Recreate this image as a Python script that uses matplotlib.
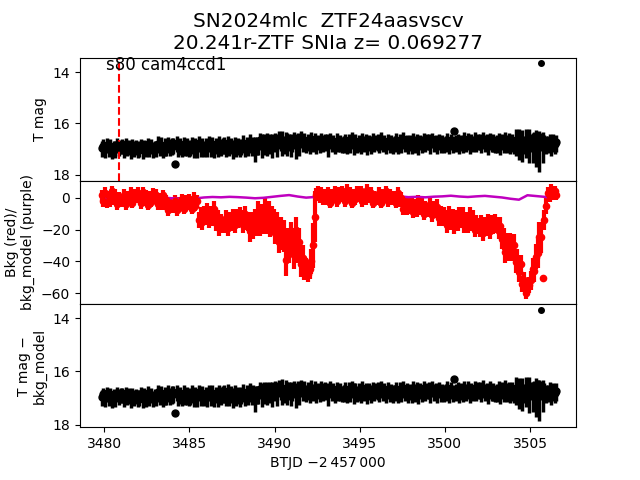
import numpy as np
import matplotlib
matplotlib.use("Agg")
import matplotlib.pyplot as plt

# TESS cadence (binned to 0.1 d), BTJD
btjd = [3479.85, 3479.95,
        3480.05, 3480.15, 3480.25, 3480.35, 3480.45, 3480.55, 3480.65, 3480.75, 3480.85, 3480.95,
        3481.05, 3481.15, 3481.25, 3481.35, 3481.45, 3481.55, 3481.65, 3481.75, 3481.85, 3481.95,
        3482.05, 3482.15, 3482.25, 3482.35, 3482.45, 3482.55, 3482.65, 3482.75, 3482.85, 3482.95,
        3483.05, 3483.15, 3483.25, 3483.35, 3483.45, 3483.55, 3483.65, 3483.75, 3483.85, 3483.95,
        3484.05, 3484.15, 3484.25, 3484.35, 3484.45, 3484.55, 3484.65, 3484.75, 3484.85, 3484.95,
        3485.05, 3485.15, 3485.25, 3485.35, 3485.45, 3485.55, 3485.65, 3485.75, 3485.85, 3485.95,
        3486.05, 3486.15, 3486.25, 3486.35, 3486.45, 3486.55, 3486.65, 3486.75, 3486.85, 3486.95,
        3487.05, 3487.15, 3487.25, 3487.35, 3487.45, 3487.55, 3487.65, 3487.75, 3487.85, 3487.95,
        3488.05, 3488.15, 3488.25, 3488.35, 3488.45, 3488.55, 3488.65, 3488.75, 3488.85, 3488.95,
        3489.05, 3489.15, 3489.25, 3489.35, 3489.45, 3489.55, 3489.65, 3489.75, 3489.85, 3489.95,
        3490.05, 3490.15, 3490.25, 3490.35, 3490.45, 3490.55, 3490.65, 3490.75, 3490.85, 3490.95,
        3491.05, 3491.15, 3491.25, 3491.35, 3491.45, 3491.55, 3491.65, 3491.75, 3491.85, 3491.95,
        3492.05, 3492.15, 3492.25, 3492.35, 3492.45, 3492.55, 3492.65, 3492.75, 3492.85, 3492.95,
        3493.05, 3493.15, 3493.25, 3493.35, 3493.45, 3493.55, 3493.65, 3493.75, 3493.85, 3493.95,
        3494.05, 3494.15, 3494.25, 3494.35, 3494.45, 3494.55, 3494.65, 3494.75, 3494.85, 3494.95,
        3495.05, 3495.15, 3495.25, 3495.35, 3495.45, 3495.55, 3495.65, 3495.75, 3495.85, 3495.95,
        3496.05, 3496.15, 3496.25, 3496.35, 3496.45, 3496.55, 3496.65, 3496.75, 3496.85, 3496.95,
        3497.05, 3497.15, 3497.25, 3497.35, 3497.45, 3497.55, 3497.65, 3497.75, 3497.85, 3497.95,
        3498.05, 3498.15, 3498.25, 3498.35, 3498.45, 3498.55, 3498.65, 3498.75, 3498.85, 3498.95,
        3499.05, 3499.15, 3499.25, 3499.35, 3499.45, 3499.55, 3499.65, 3499.75, 3499.85, 3499.95,
        3500.05, 3500.15, 3500.25, 3500.35, 3500.45, 3500.55, 3500.65, 3500.75, 3500.85, 3500.95,
        3501.05, 3501.15, 3501.25, 3501.35, 3501.45, 3501.55, 3501.65, 3501.75, 3501.85, 3501.95,
        3502.05, 3502.15, 3502.25, 3502.35, 3502.45, 3502.55, 3502.65, 3502.75, 3502.85, 3502.95,
        3503.05, 3503.15, 3503.25, 3503.35, 3503.45, 3503.55, 3503.65, 3503.75, 3503.85, 3503.95,
        3504.05, 3504.15, 3504.25, 3504.35, 3504.45, 3504.55, 3504.65, 3504.75, 3504.85, 3504.95,
        3505.05, 3505.15, 3505.25, 3505.35, 3505.45, 3505.55, 3505.65, 3505.75, 3505.85, 3505.95,
        3506.05, 3506.15, 3506.25, 3506.35, 3506.45, 3506.55]

tmag = [16.95, 16.86,
        17.00, 16.82, 16.95, 16.86, 17.03, 16.90, 16.97, 16.83, 16.93, 16.88,
        16.87, 16.99, 16.81, 16.94, 16.89, 17.01, 16.85, 16.96, 16.91, 16.98,
        16.95, 16.84, 17.02, 16.88, 16.98, 16.80, 16.94, 16.87, 17.00, 16.91,
        16.96, 16.78, 16.91, 16.82, 16.99, 16.86, 16.93, 16.79, 16.89, 16.84,
        16.83, 17.58, 16.77, 16.90, 16.85, 16.97, 16.81, 16.92, 16.87, 16.94,
        16.91, 16.80, 16.98, 16.84, 16.94, 16.76, 16.90, 16.83, 16.96, 16.87,
        16.95, 16.77, 16.90, 16.81, 16.98, 16.85, 16.92, 16.78, 16.88, 16.83,
        16.81, 16.93, 16.75, 16.88, 16.83, 16.95, 16.79, 16.90, 16.85, 16.92,
        16.87, 16.76, 16.94, 16.80, 16.90, 16.72, 16.86, 16.79, 16.92, 16.83,
        16.84, 16.66, 16.79, 16.70, 16.87, 16.74, 16.81, 16.67, 16.77, 16.72,
        16.65, 16.77, 16.59, 16.72, 16.67, 16.79, 16.63, 16.74, 16.69, 16.76,
        16.73, 16.62, 16.80, 16.66, 16.76, 16.58, 16.72, 16.65, 16.78, 16.69,
        16.80, 16.62, 16.75, 16.66, 16.83, 16.70, 16.77, 16.63, 16.73, 16.68,
        16.69, 16.81, 16.63, 16.76, 16.71, 16.83, 16.67, 16.78, 16.73, 16.80,
        16.77, 16.66, 16.84, 16.70, 16.80, 16.62, 16.76, 16.69, 16.82, 16.73,
        16.82, 16.64, 16.77, 16.68, 16.85, 16.72, 16.79, 16.65, 16.75, 16.70,
        16.69, 16.81, 16.63, 16.76, 16.71, 16.83, 16.67, 16.78, 16.73, 16.80,
        16.77, 16.66, 16.84, 16.70, 16.80, 16.62, 16.76, 16.69, 16.82, 16.73,
        16.81, 16.63, 16.76, 16.67, 16.84, 16.71, 16.78, 16.64, 16.74, 16.69,
        16.68, 16.80, 16.62, 16.75, 16.70, 16.82, 16.66, 16.77, 16.72, 16.79,
        16.75, 16.64, 16.82, 16.68, 16.78, 16.30, 16.74, 16.67, 16.80, 16.71,
        16.80, 16.62, 16.75, 16.66, 16.83, 16.70, 16.77, 16.63, 16.73, 16.68,
        16.67, 16.79, 16.61, 16.74, 16.69, 16.81, 16.65, 16.76, 16.71, 16.78,
        16.75, 16.64, 16.82, 16.68, 16.78, 16.60, 16.74, 16.67, 16.80, 16.71,
        16.81, 16.63, 16.76, 16.67, 16.84, 16.71, 16.78, 16.64, 16.74, 16.69,
        16.69, 16.81, 16.63, 16.76, 16.71, 16.83, 16.67, 16.78, 16.73, 16.80,
        16.78, 16.67, 16.85, 16.71, 16.81, 16.73]

# flux error as a fraction of flux
flux_err = [0.27, 0.26,
            0.27, 0.25, 0.28, 0.26, 0.27, 0.24, 0.28, 0.26, 0.27, 0.25,
            0.26, 0.28, 0.25, 0.27, 0.26, 0.28, 0.25, 0.27, 0.26, 0.28,
            0.27, 0.25, 0.28, 0.26, 0.27, 0.25, 0.28, 0.26, 0.27, 0.25,
            0.28, 0.30, 0.27, 0.29, 0.28, 0.30, 0.27, 0.29, 0.28, 0.30,
            0.29, 0.03, 0.28, 0.30, 0.29, 0.27, 0.30, 0.28, 0.31, 0.29,
            0.28, 0.30, 0.29, 0.27, 0.30, 0.28, 0.31, 0.29, 0.28, 0.30,
            0.29, 0.28, 0.30, 0.32, 0.29, 0.28, 0.31, 0.29, 0.30, 0.28,
            0.30, 0.29, 0.28, 0.31, 0.29, 0.33, 0.28, 0.30, 0.29, 0.31,
            0.29, 0.31, 0.28, 0.30, 0.29, 0.32, 0.30, 0.29, 0.42, 0.30,
            0.31, 0.29, 0.40, 0.30, 0.28, 0.38, 0.30, 0.29, 0.41, 0.30,
            0.29, 0.39, 0.30, 0.28, 0.43, 0.30, 0.31, 0.38, 0.29, 0.40,
            0.30, 0.29, 0.41, 0.30, 0.38, 0.29, 0.31, 0.30, 0.28, 0.30,
            0.29, 0.30, 0.28, 0.30, 0.29, 0.27, 0.30, 0.28, 0.29, 0.30,
            0.28, 0.36, 0.29, 0.27, 0.29, 0.28, 0.30, 0.27, 0.29, 0.28,
            0.29, 0.28, 0.27, 0.30, 0.28, 0.29, 0.35, 0.28, 0.27, 0.29,
            0.28, 0.29, 0.28, 0.27, 0.29, 0.28, 0.30, 0.28, 0.29, 0.27,
            0.29, 0.28, 0.30, 0.28, 0.27, 0.29, 0.28, 0.30, 0.28, 0.29,
            0.28, 0.29, 0.27, 0.30, 0.28, 0.29, 0.28, 0.27, 0.29, 0.28,
            0.29, 0.28, 0.30, 0.28, 0.29, 0.27, 0.30, 0.28, 0.29, 0.28,
            0.28, 0.30, 0.27, 0.29, 0.28, 0.30, 0.28, 0.29, 0.27, 0.29,
            0.29, 0.28, 0.30, 0.28, 0.29, 0.03, 0.29, 0.28, 0.30, 0.28,
            0.28, 0.29, 0.28, 0.30, 0.27, 0.29, 0.28, 0.30, 0.29, 0.28,
            0.29, 0.28, 0.30, 0.29, 0.28, 0.31, 0.29, 0.28, 0.30, 0.29,
            0.30, 0.29, 0.31, 0.29, 0.30, 0.28, 0.31, 0.30, 0.29, 0.32,
            0.30, 0.45, 0.31, 0.50, 0.30, 0.52, 0.31, 0.47, 0.30, 0.55,
            0.31, 0.48, 0.30, 0.58, 0.44, 0.62, 0.31, 0.50, 0.30, 0.31,
            0.30, 0.29, 0.31, 0.30, 0.29, 0.30]

bkg = [1.5, -2.0,
       3, -3, 1, -2, 4, -1, 2, -4, 0, -2,
       -2, 2, -4, 1, -1, 3, -3, 2, 0, 3,
       0.5, -3.5, 3.5, -1.5, 1.5, -4.5, 0.5, -2.5, 2.5, -0.5,
       2, -4, -0.5, -4, 1.5, -4, -1.5, -8, -4, -6,
       -6, -2, -8, -3, -5, -1, -7, -2, -4, -1,
       -3, -7, 0, -5, -2, -14, -11, -15, -10, -12,
       -8, -14, -10, -13, -7, -16, -13, -19, -15, -17,
       -17, -13, -19, -14, -16, -12, -17, -12, -14, -11,
       -13, -17, -10, -15, -15, -21, -16, -19, -14, -17,
       -10, -16, -12, -15, -9, -14, -11, -17, -13, -15,
       -22, -16, -28, -20, -24, -24, -39, -29, -32, -24,
       -28, -36, -20, -32, -28, -42, -38, -46, -44, -48,
       -45, -40, -30, -12, 2, 4, 0, 3, -1, 2,
       -1, 3, -3, 2, 0, 4, -2, 3, 1, 4,
       2, -2, 5, 0, 3, -3, 2, -1, 4, 1,
       4, -2, 2, -1, 5, 0, 3, -3, 1, -1,
       -1, 3, -3, 2, 0, 4, -2, 2, -1, 1,
       1, -3, 3, -2, 0, -7, -3, -7, -3, -6,
       -3, -9, -5, -8, -2, -7, -4, -10, -6, -8,
       -8, -4, -11, -6, -9, -6, -13, -10, -13, -11,
       -13, -17, -10, -15, -12, -18, -13, -16, -11, -14,
       -11, -17, -14, -17, -11, -16, -13, -20, -16, -18,
       -20, -16, -22, -17, -19, -15, -21, -16, -18, -15,
       -17, -21, -18, -26, -26, -34, -29, -33, -29, -33,
       -29.5, -40.5, -38.5, -47, -42, -54.5, -52, -60, -55, -55,
       -52, -45, -46, -37, -35, -25, -25, -50.5, -14, -5,
       3, 1, 5, 2, 4, 2]

bkg_err = [3.5, 3.5,
           3.5, 3.5, 3.5, 3.5, 3.5, 3.5, 3.5, 3.5, 3.5, 3.5,
           3.5, 3.5, 3.5, 3.5, 3.5, 3.5, 3.5, 3.5, 3.5, 3.5,
           3.5, 3.5, 3.5, 3.5, 3.5, 3.5, 3.5, 3.5, 3.5, 3.5,
           3.5, 3.5, 3.5, 3.5, 3.5, 3.5, 3.5, 3.5, 3.5, 3.5,
           3.5, 3.5, 3.5, 3.5, 3.5, 3.5, 3.5, 3.5, 3.5, 3.5,
           3.5, 3.5, 3.5, 3.5, 3.5, 5, 5, 5, 5, 5,
           5, 5, 5, 5, 5, 5, 5, 5, 5, 5,
           5, 5, 5, 5, 5, 5, 5, 5, 5, 5,
           5, 5, 5, 5, 6, 7, 7, 7, 7, 7,
           8, 8, 8, 8, 9, 9, 9, 8, 8, 8,
           7, 7, 7, 8, 9, 10, 10, 10, 9, 9,
           9, 9, 8, 9, 9, 8, 8, 6, 6, 5,
           6, 8, 14, 16, 4, 3.5, 3.5, 3.5, 3.5, 3.5,
           3.5, 3.5, 3.5, 3.5, 3.5, 3.5, 3.5, 3.5, 3.5, 3.5,
           3.5, 3.5, 3.5, 3.5, 3.5, 3.5, 3.5, 3.5, 3.5, 3.5,
           3.5, 3.5, 3.5, 3.5, 3.5, 3.5, 3.5, 3.5, 3.5, 3.5,
           3.5, 3.5, 3.5, 3.5, 3.5, 3.5, 3.5, 3.5, 3.5, 3.5,
           3.5, 3.5, 3.5, 3.5, 3.5, 4, 4, 4, 4, 4,
           4, 4, 4, 4, 4, 4, 4, 4, 4, 4,
           4, 4, 4, 4, 4, 5, 5, 5, 5, 5,
           5, 5, 5, 5, 5, 5, 5, 5, 5, 5,
           5, 5, 5, 5, 5, 5, 5, 5, 5, 5,
           5, 5, 5, 5, 5, 5, 5, 5, 5, 5,
           5, 5, 6, 6, 7, 7, 7, 7, 7, 7,
           7, 7, 6, 6, 6, 5, 5, 4, 4, 5,
           6, 7, 7, 8, 9, 10, 10, 0.3, 6, 5,
           3.5, 3.5, 3.5, 3.5, 3.5, 3.5]

# background model, sampled every 0.5 d
model_btjd = [3479.85, 3480.35, 3480.85, 3481.35, 3481.85, 3482.35, 3482.85, 3483.35, 3483.85,
              3484.35, 3484.85, 3485.35, 3485.85, 3486.35, 3486.85, 3487.35, 3487.85, 3488.35,
              3488.85, 3489.35, 3489.85, 3490.35, 3490.85, 3491.35, 3491.85, 3492.35, 3492.85,
              3493.35, 3493.85, 3494.35, 3494.85, 3495.35, 3495.85, 3496.35, 3496.85, 3497.35,
              3497.85, 3498.35, 3498.85, 3499.35, 3499.85, 3500.35, 3500.85, 3501.35, 3501.85,
              3502.35, 3502.85, 3503.35, 3503.85, 3504.35, 3504.85, 3505.35, 3505.85, 3506.35,
              3506.55]
bkg_model = [-0.3, -0.2, -0.4, -0.1, -0.3, 0.0, -0.2, 0.1, -0.2,
             -0.6, -0.9, -0.4, 0.2, 0.5, 0.3, 0.6, 0.4, 0.1,
             -0.3, 0.0, 0.6, 1.2, 1.7, 0.8, 0.1, 0.5, 0.7,
             0.4, 0.8, 0.5, 0.7, 0.9, 0.6, 0.8, 0.5, 0.9,
             0.4, 0.6, 0.3, 0.7, 0.9, 1.3, 0.8, 0.5, 0.9,
             1.2, 0.7, 0.2, -0.6, -1.2, 1.6, 1.1, 0.6, -0.1,
             0.2]

# single bright point near the end of the sector
flare_btjd = [3505.65]
flare_tmag = [13.65]
flare_tmag_sub = [13.70]

disc_btjd = 3480.86

# asymmetric magnitude errors from the flux errors
flux_err = np.array(flux_err)
mag_up = 2.5 * np.log10(1 + flux_err)
mag_dn = -2.5 * np.log10(1 - flux_err)

fig, (ax1, ax2, ax3) = plt.subplots(3, 1, sharex=True, figsize=(6.4, 4.8))
fig.subplots_adjust(hspace=0)

ax1.errorbar(btjd, tmag, yerr=[mag_up, mag_dn], fmt='ko', ms=5, elinewidth=2.5)
ax1.plot(flare_btjd, flare_tmag, 'ko', ms=4)
ax1.axvline(disc_btjd, color='r', ls='--')
ax1.set_ylim(18.23, 13.44)
ax1.set_yticks([14, 16, 18])
ax1.set_ylabel("T mag")
ax1.text(0.052, 0.897, "s80 cam4ccd1", transform=ax1.transAxes, fontsize=12)
ax1.set_title("SN2024mlc  ZTF24aasvscv\n20.241r-ZTF SNIa z= 0.069277", fontsize=14.4)

ax2.errorbar(btjd, bkg, yerr=bkg_err, fmt='ro', ms=4.5, elinewidth=3)
ax2.plot(model_btjd, bkg_model, color='m', lw=1.8)
ax2.set_ylim(-66.9, 10.7)
ax2.set_yticks([0, -20, -40, -60])
ax2.set_ylabel("Bkg (red)/\nbkg_model (purple)")

ax3.errorbar(btjd, tmag, yerr=[mag_up, mag_dn], fmt='ko', ms=5, elinewidth=2.5)
ax3.plot(flare_btjd, flare_tmag_sub, 'ko', ms=4)
ax3.set_ylim(18.1, 13.46)
ax3.set_yticks([14, 16, 18])
ax3.set_ylabel("T mag \u2212\nbkg_model")
ax3.set_xlim(3478.57, 3507.7)
ax3.set_xlabel("BTJD \u22122\u2009457\u2009000")

plt.savefig("out.png")
